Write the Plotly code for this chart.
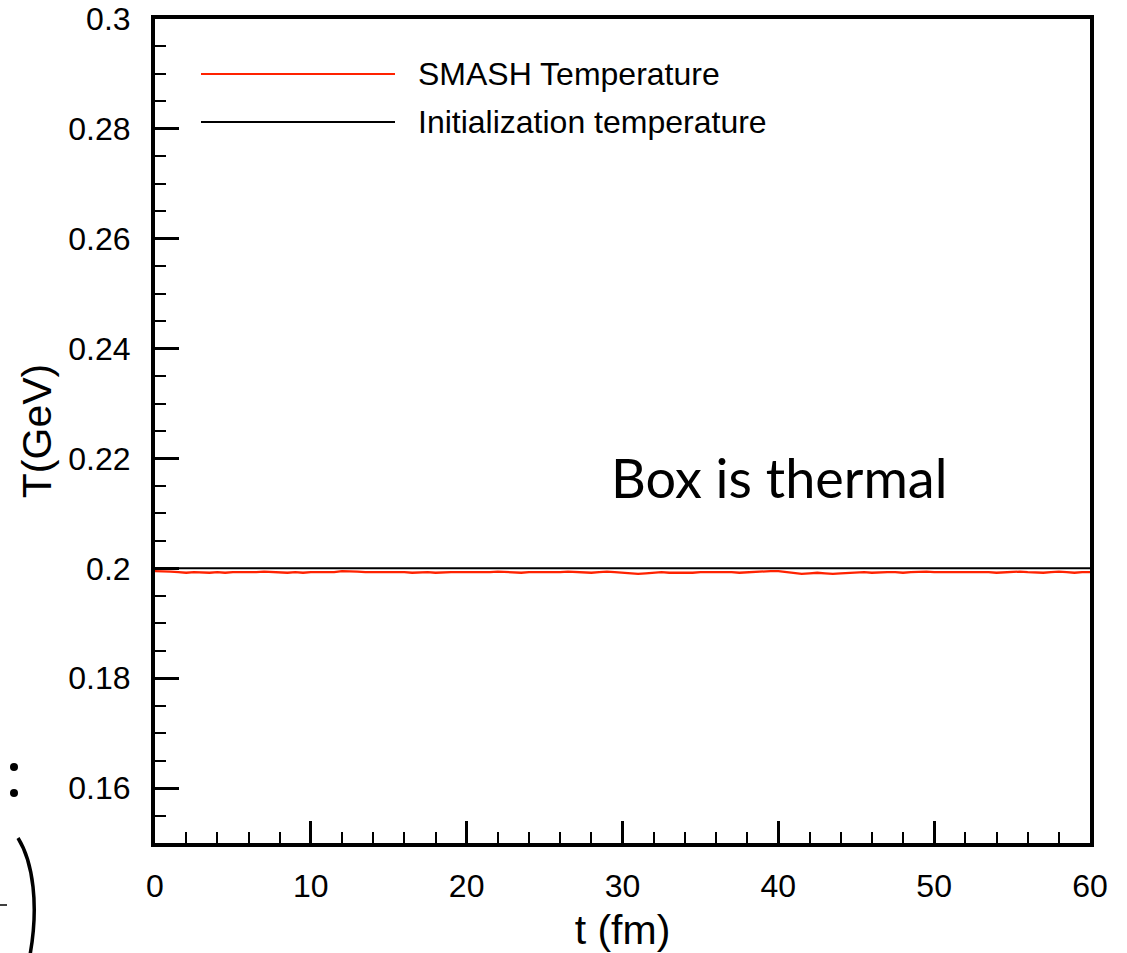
import plotly.graph_objects as go

# ---- data ----
t_fm = [i * 0.5 for i in range(121)]
smash_T = [
    .1995, .1995, .1994, .1993, .1992, .1993, .1992, .1992, .1993, .1992,
    .1993, .1993, .1992, .1993, .1994, .1993, .1992, .1992, .1993, .1992,
    .1993, .1993, .1992, .1993, .1995, .1995, .1994, .1993, .1993, .1993,
    .1994, .1993, .1993, .1992, .1993, .1993, .1992, .1993, .1993, .1993,
    .1993, .1992, .1993, .1993, .1994, .1993, .1993, .1992, .1993, .1993,
    .1992, .1993, .1993, .1994, .1993, .1993, .1992, .1993, .1994, .1993,
    .1992, .1991, .1990, .1991, .1992, .1993, .1992, .1992, .1991, .1992,
    .1993, .1993, .1994, .1993, .1993, .1992, .1993, .1994, .1995, .1995,
    .1995, .1993, .1991, .1990, .1991, .1992, .1991, .1990, .1991, .1992,
    .1993, .1993, .1992, .1993, .1993, .1993, .1992, .1993, .1994, .1994,
    .1993, .1993, .1994, .1993, .1993, .1994, .1993, .1993, .1992, .1993,
    .1993, .1994, .1993, .1992, .1992, .1993, .1994, .1993, .1992, .1993,
    .1993,
]
init_t = [0, 60]
init_T = [0.2, 0.2]
legend_names = ["SMASH Temperature", "Initialization temperature"]
x_ticks = [0, 10, 20, 30, 40, 50, 60]
y_ticks = [0.16, 0.18, 0.2, 0.22, 0.24, 0.26, 0.28, 0.3]

W, H = 1127, 953
ML, MR, MT, MB = 155, 37, 19, 110
PW, PH = W - ML - MR, H - MT - MB


def px(x):
    return (x - ML) / PW


def py(y):
    return (H - MB - y) / PH


fig = go.Figure()
fig.add_trace(go.Scatter(x=t_fm, y=smash_T, mode="lines",
                         line=dict(color="#ff2200", width=2.3),
                         name=legend_names[0], showlegend=False))
fig.add_trace(go.Scatter(x=init_t, y=init_T, mode="lines",
                         line=dict(color="black", width=2),
                         name=legend_names[1], showlegend=False))

font = "Liberation Sans, Arial, sans-serif"
shapes = []
annotations = []
# manual legend
for i, (col, name) in enumerate(zip(["#ff2200", "black"], legend_names)):
    yy = [74, 122][i]
    shapes.append(dict(type="line", xref="paper", yref="paper",
                       x0=px(201), x1=px(395), y0=py(yy), y1=py(yy),
                       line=dict(color=col, width=2)))
    annotations.append(dict(text=name, xref="paper", yref="paper",
                            x=px(416), y=py(yy), xanchor="left", yanchor="middle",
                            showarrow=False, font=dict(family=font, size=32, color="black")))

annotations.append(dict(text="Box is thermal", xref="paper", yref="paper",
                        x=px(609), y=py(477), xanchor="left", yanchor="middle",
                        showarrow=False, font=dict(family="Lato, sans-serif", size=54, color="black")))

# fragments at left edge from cropped slide
shapes.append(dict(type="path", xref="paper", yref="paper",
                   path=f"M {px(18)},{py(838)} C {px(33)},{py(862)} {px(39)},{py(905)} {px(30)},{py(955)}",
                   line=dict(color="black", width=3.5)))
for cy in (767, 793):
    shapes.append(dict(type="circle", xref="paper", yref="paper",
                       x0=px(10), x1=px(18), y0=py(cy + 4), y1=py(cy - 4),
                       fillcolor="black", line=dict(width=0)))
shapes.append(dict(type="line", xref="paper", yref="paper",
                   x0=px(0), x1=px(7), y0=py(905), y1=py(905),
                   line=dict(color="black", width=1.5)))

fig.update_layout(
    width=W, height=H,
    margin=dict(l=ML, r=MR, t=MT, b=MB),
    paper_bgcolor="white", plot_bgcolor="white",
    font=dict(family=font, size=32, color="black"),
    shapes=shapes, annotations=annotations,
    showlegend=False,
)
fig.update_xaxes(
    range=[0, 60], tickvals=x_ticks, ticktext=[str(v) for v in x_ticks],
    automargin=False,
    showgrid=False, zeroline=False,
    showline=True, linewidth=4, linecolor="black", mirror=True,
    ticks="inside", ticklen=22, tickwidth=3, tickcolor="black",
    minor=dict(ticks="inside", ticklen=11, tickwidth=2, dtick=2, tick0=0, tickcolor="black", showgrid=False),
    tickfont=dict(family=font, size=32),
    ticklabelstandoff=12,
    title=dict(text="t (fm)", font=dict(family=font, size=41), standoff=20),
)
fig.update_yaxes(
    range=[0.15, 0.3], tickvals=y_ticks, ticktext=[f"{v:g}" for v in y_ticks],
    automargin=False,
    showgrid=False, zeroline=False,
    showline=True, linewidth=4, linecolor="black", mirror=True,
    ticks="inside", ticklen=24, tickwidth=3, tickcolor="black",
    minor=dict(ticks="inside", ticklen=11, tickwidth=2, dtick=0.005, tick0=0.15, tickcolor="black", showgrid=False),
    tickfont=dict(family=font, size=32),
    ticklabelstandoff=14,
    title=dict(text="T(GeV)", font=dict(family=font, size=41), standoff=5),
)

fig.write_html("out.html")
